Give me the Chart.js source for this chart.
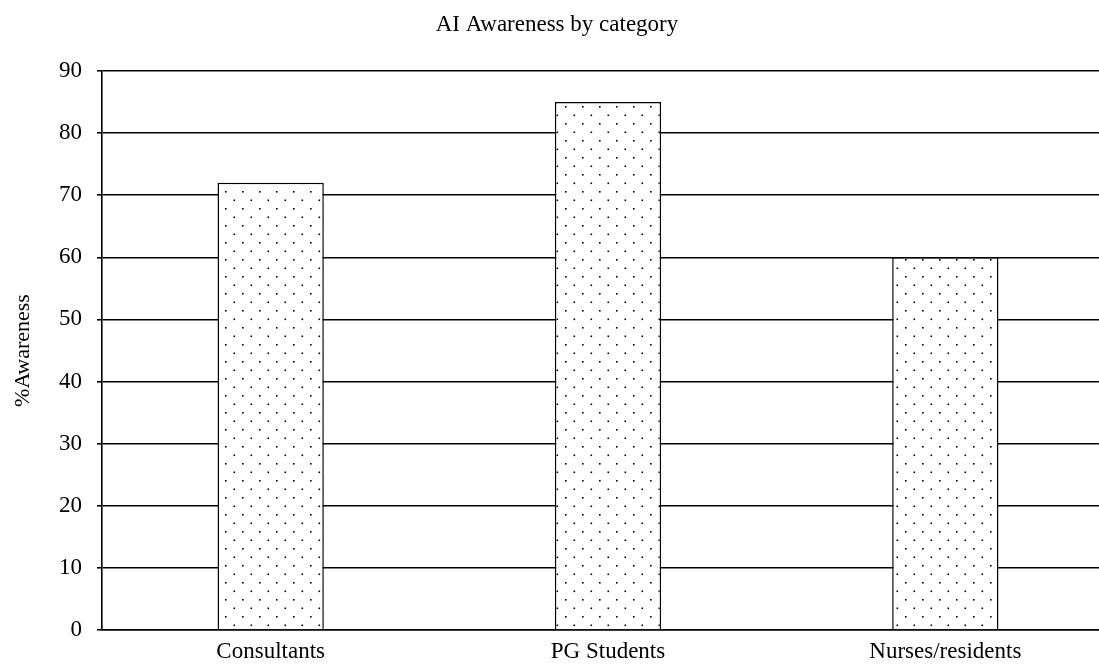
<!DOCTYPE html>
<html>
<head>
<meta charset="utf-8">
<script src="https://cdn.jsdelivr.net/npm/chart.js@4.4.1/dist/chart.umd.min.js"></script>
<style>
html,body{margin:0;padding:0;background:#fff;overflow:hidden;}
#wrap{width:1099px;height:668px;position:relative;overflow:hidden;}
</style>
</head>
<body>
<div id="wrap"><canvas id="c" width="1114" height="668"></canvas></div>
<script>
const categories = ["Consultants", "PG Students", "Nurses/residents"];
const awareness = [72, 85, 60];
const chartTitle = "AI Awareness by category";
const yTitle = "%Awareness";

function dotPattern() {
  const s = 17;
  const c = document.createElement('canvas');
  c.width = s; c.height = s;
  const x = c.getContext('2d');
  x.fillStyle = '#fff';
  x.fillRect(0, 0, s, s);
  x.fillStyle = '#000';
  x.fillRect(4, 4, 1.6, 1.6);
  x.fillRect(12.5, 12.5, 1.6, 1.6);
  return document.getElementById('c').getContext('2d').createPattern(c, 'repeat');
}

const FONT = "'Liberation Serif', 'Times New Roman', serif";
Chart.defaults.font.family = FONT;
Chart.defaults.color = '#000';

new Chart(document.getElementById('c'), {
  type: 'bar',
  data: {
    labels: categories,
    datasets: [{
      data: awareness,
      backgroundColor: dotPattern(),
      borderColor: '#000',
      borderWidth: 1.5,
      categoryPercentage: 1,
      barPercentage: 0.315
    }]
  },
  options: {
    responsive: false,
    animation: false,
    layout: { padding: { left: 0, right: 0, top: 0, bottom: 0 } },
    plugins: {
      legend: { display: false },
      tooltip: { enabled: false },
      title: {
        display: true,
        text: chartTitle,
        font: { size: 23, weight: 'normal', family: FONT },
        color: '#000',
        padding: { top: 11, bottom: 32.4 }
      }
    },
    scales: {
      x: {
        grid: { display: false },
        border: { display: true, color: '#000', width: 1.6 },
        ticks: { font: { size: 23, family: FONT }, color: '#000', padding: 0 },
        afterFit(s) { s.height = 38; }
      },
      y: {
        min: 0, max: 90,
        ticks: { stepSize: 10, font: { size: 23, family: FONT }, color: '#000', padding: 15 },
        grid: { color: '#000', lineWidth: 1.6, drawTicks: true, tickLength: 5 },
        border: { display: true, color: '#000', width: 1.6 },
        title: { display: true, text: yTitle, font: { size: 22, family: FONT }, color: '#000', padding: { top: 10, bottom: 0 } },
        afterFit(s) { s.width = 102; }
      }
    }
  }
});
</script>
</body>
</html>
